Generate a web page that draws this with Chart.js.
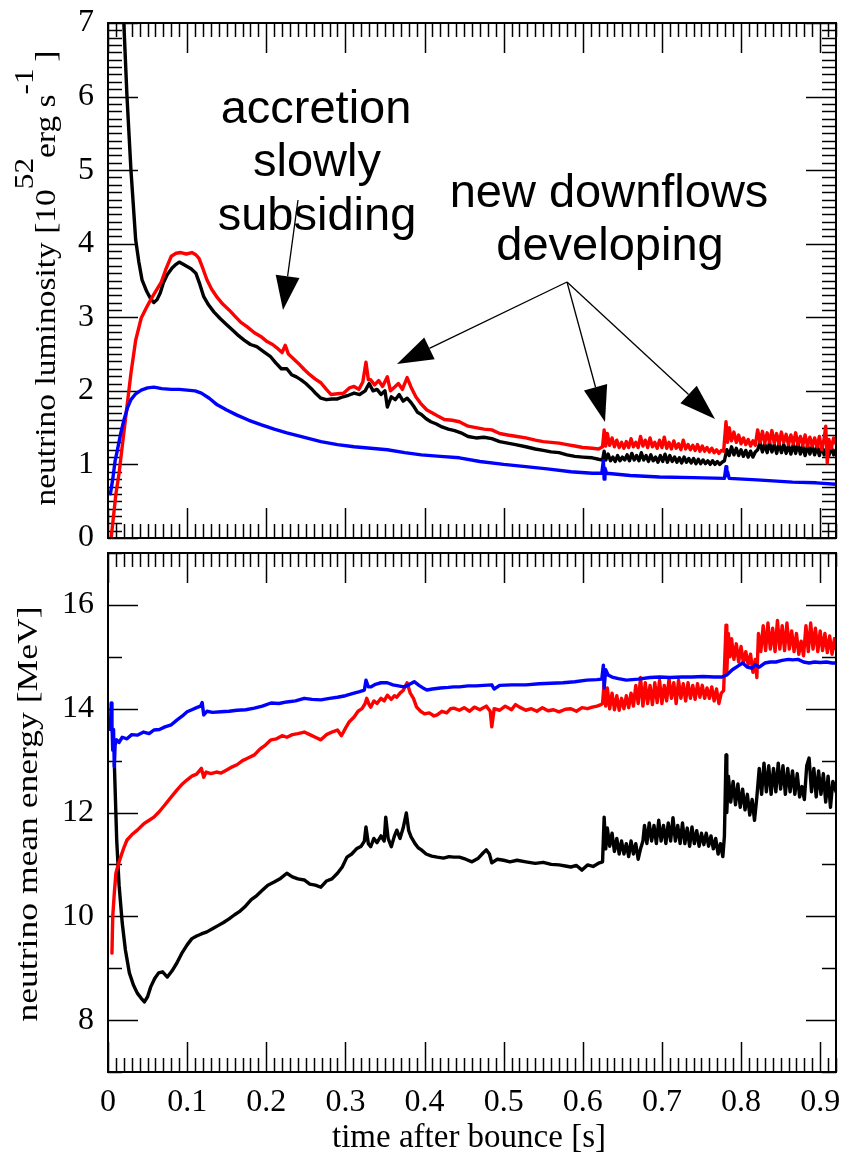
<!DOCTYPE html>
<html><head><meta charset="utf-8">
<script src="https://cdn.jsdelivr.net/npm/chart.js@4.4.1/dist/chart.umd.min.js"></script>
<style>
html,body{margin:0;padding:0;background:#fff;}
#wrap{position:relative;width:846px;height:1157px;overflow:hidden;background:#fff;}
canvas{position:absolute;left:0;}
</style></head><body>
<div id="wrap">
<canvas id="lum" width="846" height="546" style="top:0;width:846px;height:546px"></canvas>
<canvas id="ene" width="846" height="611" style="top:546px;width:846px;height:611px"></canvas>
</div>
<script>
// ---------- axes ----------
const xRange = [0, 0.92];
const xTickValues = [0, 0.1, 0.2, 0.3, 0.4, 0.5, 0.6, 0.7, 0.8, 0.9];
const xTickLabels = ['0','0.1','0.2','0.3','0.4','0.5','0.6','0.7','0.8','0.9'];
const lumRange = [0, 7];
const lumTickValues = [0, 1, 2, 3, 4, 5, 6, 7];
const energyRange = [7, 17];
const energyTickValues = [8, 10, 12, 14, 16];

// ---------- luminosity [1e52 erg/s] vs time [s] ----------
const lumNuE = [[0.012,9.5],[0.016,8.0],[0.02,7.0],[0.024,6.0],[0.029,5.0],[0.035,4.05],[0.039,3.75],[0.043,3.51],[0.049,3.35],[0.054,3.25],[0.058,3.2],[0.062,3.24],[0.066,3.33],[0.07,3.47],[0.075,3.58],[0.081,3.67],[0.086,3.72],[0.09,3.75],[0.095,3.72],[0.1,3.69],[0.105,3.66],[0.111,3.6],[0.116,3.45],[0.121,3.28],[0.127,3.17],[0.134,3.07],[0.142,2.98],[0.15,2.9],[0.158,2.82],[0.165,2.75],[0.172,2.69],[0.18,2.63],[0.188,2.6],[0.197,2.53],[0.205,2.47],[0.212,2.38],[0.219,2.3],[0.226,2.3],[0.232,2.22],[0.238,2.19],[0.244,2.15],[0.25,2.1],[0.257,2.03],[0.263,1.96],[0.269,1.9],[0.276,1.88],[0.283,1.89],[0.29,1.89],[0.297,1.92],[0.304,1.94],[0.311,1.97],[0.318,1.95],[0.325,2.0],[0.33,2.1],[0.335,2.0],[0.34,2.02],[0.345,1.95],[0.35,2.0],[0.353,1.78],[0.358,1.92],[0.363,1.88],[0.368,1.95],[0.373,1.86],[0.378,1.9],[0.383,1.84],[0.387,1.78],[0.391,1.71],[0.396,1.68],[0.402,1.62],[0.408,1.58],[0.415,1.55],[0.422,1.51],[0.43,1.48],[0.438,1.46],[0.446,1.43],[0.455,1.38],[0.465,1.36],[0.475,1.37],[0.485,1.35],[0.495,1.31],[0.505,1.29],[0.515,1.27],[0.528,1.24],[0.54,1.21],[0.55,1.19],[0.56,1.17],[0.57,1.16],[0.58,1.13],[0.59,1.11],[0.6,1.1],[0.612,1.09],[0.62,1.07],
[0.625,1.06],[0.627,1.18],[0.629,1.06],[0.632,1.14],[0.635,1.05],[0.638,1.1],[0.641,1.04],[0.644,1.12],[0.647,1.05],[0.65,1.1],[0.653,1.06],[0.656,1.13],[0.659,1.05],[0.662,1.15],[0.665,1.06],[0.668,1.12],[0.671,1.05],[0.674,1.16],[0.677,1.06],[0.68,1.12],[0.683,1.04],[0.686,1.13],[0.689,1.05],[0.692,1.1],[0.695,1.03],[0.698,1.12],[0.701,1.04],[0.704,1.14],[0.707,1.03],[0.71,1.12],[0.713,1.04],[0.716,1.1],[0.719,1.03],[0.722,1.09],[0.725,1.02],[0.728,1.1],[0.731,1.03],[0.734,1.08],[0.737,1.02],[0.74,1.08],[0.743,1.01],[0.746,1.07],[0.749,1.01],[0.752,1.06],[0.755,1.01],[0.758,1.05],[0.761,1.0],[0.764,1.05],[0.767,1.0],[0.77,1.04],[0.773,1.0],[0.776,1.03],[0.779,1.05],[0.782,1.2],[0.785,1.12],[0.788,1.24],[0.791,1.13],[0.794,1.22],[0.797,1.12],[0.8,1.2],[0.803,1.11],[0.806,1.19],[0.809,1.1],[0.812,1.18],[0.815,1.1],[0.818,1.17],[0.821,1.2],[0.824,1.3],[0.827,1.17],[0.83,1.28],[0.833,1.16],[0.836,1.3],[0.839,1.17],[0.842,1.27],[0.845,1.15],[0.848,1.28],[0.851,1.16],[0.854,1.27],[0.857,1.15],[0.86,1.26],[0.863,1.14],[0.866,1.27],[0.869,1.15],[0.872,1.29],[0.875,1.14],[0.878,1.25],[0.881,1.12],[0.884,1.26],[0.887,1.14],[0.89,1.25],[0.893,1.13],[0.896,1.24],[0.899,1.12],[0.902,1.26],[0.905,1.13],[0.908,1.22],[0.911,1.12],[0.914,1.24],[0.917,1.13],[0.92,1.2]];

const lumAntiNuE = [[0.004,0.0],[0.007,0.3],[0.01,0.6],[0.014,0.88],[0.018,1.25],[0.023,1.7],[0.029,2.24],[0.035,2.69],[0.042,2.99],[0.048,3.12],[0.054,3.24],[0.06,3.35],[0.067,3.47],[0.073,3.65],[0.08,3.83],[0.086,3.87],[0.092,3.88],[0.099,3.86],[0.106,3.88],[0.111,3.85],[0.115,3.8],[0.12,3.66],[0.125,3.51],[0.131,3.38],[0.138,3.27],[0.145,3.18],[0.153,3.1],[0.16,3.02],[0.168,2.93],[0.176,2.87],[0.185,2.79],[0.193,2.74],[0.201,2.67],[0.208,2.63],[0.215,2.57],[0.22,2.52],[0.224,2.62],[0.228,2.5],[0.233,2.45],[0.24,2.38],[0.248,2.29],[0.255,2.22],[0.262,2.16],[0.269,2.11],[0.276,2.02],[0.282,1.95],[0.29,1.96],[0.298,1.97],[0.305,2.04],[0.311,2.06],[0.317,2.02],[0.322,2.12],[0.326,2.39],[0.329,2.15],[0.332,2.15],[0.337,2.08],[0.342,2.14],[0.347,2.06],[0.353,2.19],[0.357,2.0],[0.362,2.05],[0.367,2.1],[0.372,2.02],[0.378,2.18],[0.383,2.05],[0.389,1.92],[0.395,1.83],[0.403,1.74],[0.41,1.7],[0.418,1.65],[0.425,1.61],[0.435,1.6],[0.444,1.58],[0.455,1.52],[0.465,1.5],[0.475,1.48],[0.485,1.47],[0.495,1.42],[0.505,1.4],[0.517,1.38],[0.528,1.36],[0.54,1.33],[0.55,1.31],[0.56,1.3],[0.57,1.29],[0.58,1.27],[0.59,1.25],[0.6,1.23],[0.612,1.22],[0.62,1.21],
[0.625,1.24],[0.627,1.47],[0.629,1.25],[0.631,1.42],[0.634,1.26],[0.637,1.36],[0.64,1.24],[0.643,1.33],[0.646,1.23],[0.649,1.3],[0.652,1.22],[0.655,1.31],[0.658,1.23],[0.661,1.35],[0.664,1.24],[0.667,1.3],[0.67,1.23],[0.673,1.38],[0.676,1.25],[0.679,1.33],[0.682,1.23],[0.685,1.36],[0.688,1.24],[0.691,1.3],[0.694,1.22],[0.697,1.33],[0.7,1.23],[0.703,1.37],[0.706,1.22],[0.709,1.3],[0.712,1.21],[0.715,1.32],[0.718,1.22],[0.721,1.28],[0.724,1.2],[0.727,1.33],[0.73,1.21],[0.733,1.27],[0.736,1.2],[0.739,1.26],[0.742,1.19],[0.745,1.27],[0.748,1.18],[0.751,1.25],[0.754,1.18],[0.757,1.23],[0.76,1.17],[0.763,1.22],[0.766,1.16],[0.769,1.2],[0.772,1.15],[0.775,1.19],[0.778,1.18],[0.781,1.58],[0.783,1.3],[0.785,1.5],[0.788,1.32],[0.791,1.44],[0.794,1.3],[0.797,1.4],[0.8,1.28],[0.803,1.36],[0.806,1.27],[0.809,1.34],[0.812,1.25],[0.815,1.32],[0.818,1.26],[0.821,1.47],[0.824,1.3],[0.827,1.45],[0.83,1.29],[0.833,1.43],[0.836,1.3],[0.839,1.46],[0.842,1.29],[0.845,1.42],[0.848,1.28],[0.851,1.44],[0.854,1.3],[0.857,1.41],[0.86,1.27],[0.863,1.4],[0.866,1.28],[0.869,1.43],[0.872,1.27],[0.875,1.38],[0.878,1.26],[0.881,1.4],[0.884,1.25],[0.887,1.37],[0.89,1.25],[0.893,1.36],[0.896,1.24],[0.899,1.38],[0.902,1.2],[0.905,1.35],[0.907,1.52],[0.909,1.02],[0.911,1.34],[0.914,1.22],[0.917,1.36],[0.92,1.28]];

const lumNuX = [[0.003,0.6],[0.006,0.8],[0.009,1.05],[0.012,1.2],[0.016,1.42],[0.02,1.6],[0.025,1.78],[0.029,1.88],[0.035,1.96],[0.042,2.01],[0.05,2.04],[0.058,2.05],[0.068,2.03],[0.08,2.02],[0.09,2.02],[0.1,2.01],[0.11,2.0],[0.118,1.97],[0.128,1.9],[0.138,1.81],[0.15,1.74],[0.163,1.67],[0.178,1.6],[0.193,1.54],[0.21,1.48],[0.226,1.43],[0.247,1.37],[0.269,1.31],[0.29,1.27],[0.311,1.24],[0.332,1.22],[0.353,1.2],[0.375,1.16],[0.396,1.13],[0.42,1.11],[0.444,1.09],[0.47,1.04],[0.5,1.0],[0.528,0.97],[0.555,0.94],[0.585,0.9],[0.612,0.88],[0.624,0.88],[0.626,1.05],[0.627,0.8],[0.628,0.95],[0.63,0.88],[0.66,0.85],[0.697,0.83],[0.74,0.82],[0.779,0.81],[0.781,0.97],[0.782,0.85],[0.783,0.9],[0.785,0.81],[0.82,0.79],[0.865,0.76],[0.895,0.75],[0.92,0.73]];

// ---------- mean energy [MeV] vs time [s] ----------
const eNuE = [[0.008,12.95],[0.011,11.47],[0.014,10.6],[0.018,9.87],[0.022,9.35],[0.027,8.91],[0.032,8.68],[0.037,8.52],[0.042,8.42],[0.046,8.35],[0.05,8.45],[0.054,8.64],[0.059,8.8],[0.064,8.91],[0.069,8.93],[0.075,8.83],[0.081,8.95],[0.087,9.1],[0.093,9.28],[0.1,9.45],[0.106,9.57],[0.112,9.62],[0.118,9.66],[0.125,9.7],[0.132,9.76],[0.139,9.82],[0.146,9.88],[0.153,9.95],[0.16,10.03],[0.167,10.1],[0.174,10.2],[0.181,10.32],[0.188,10.4],[0.195,10.5],[0.202,10.6],[0.21,10.66],[0.218,10.73],[0.226,10.83],[0.233,10.76],[0.24,10.72],[0.248,10.7],[0.255,10.62],[0.262,10.6],[0.269,10.56],[0.276,10.68],[0.283,10.72],[0.29,10.83],[0.296,10.95],[0.302,11.14],[0.308,11.2],[0.314,11.3],[0.32,11.35],[0.324,11.45],[0.326,11.72],[0.329,11.4],[0.332,11.34],[0.336,11.5],[0.34,11.42],[0.345,11.55],[0.349,11.45],[0.351,11.91],[0.354,11.5],[0.358,11.34],[0.362,11.55],[0.365,11.66],[0.369,11.5],[0.373,11.7],[0.377,11.99],[0.38,11.65],[0.383,11.53],[0.388,11.4],[0.392,11.32],[0.396,11.28],[0.402,11.2],[0.409,11.16],[0.416,11.14],[0.424,11.12],[0.431,11.15],[0.437,11.14],[0.444,11.14],[0.452,11.1],[0.46,11.05],[0.468,11.12],[0.474,11.22],[0.478,11.28],[0.482,11.2],[0.485,11.03],[0.492,11.1],[0.5,11.08],[0.508,11.05],[0.517,11.08],[0.528,11.05],[0.54,11.02],[0.55,11.04],[0.56,11.0],[0.57,10.99],[0.578,10.97],[0.585,10.95],[0.592,10.98],[0.599,10.89],[0.606,10.99],[0.613,10.96],[0.621,11.03],
[0.625,11.05],[0.627,11.91],[0.629,11.3],[0.631,11.7],[0.634,11.35],[0.637,11.6],[0.64,11.25],[0.643,11.5],[0.646,11.2],[0.649,11.45],[0.652,11.2],[0.655,11.4],[0.658,11.15],[0.661,11.45],[0.664,11.2],[0.667,11.4],[0.67,11.1],[0.673,11.3],[0.676,11.45],[0.678,11.75],[0.681,11.4],[0.684,11.8],[0.687,11.45],[0.69,11.75],[0.693,11.4],[0.696,11.85],[0.699,11.45],[0.702,11.75],[0.705,11.4],[0.708,11.8],[0.711,11.45],[0.714,11.9],[0.717,11.45],[0.72,11.75],[0.723,11.4],[0.726,11.8],[0.729,11.4],[0.732,11.7],[0.735,11.35],[0.738,11.72],[0.741,11.4],[0.744,11.65],[0.747,11.35],[0.75,11.6],[0.753,11.38],[0.756,11.6],[0.759,11.35],[0.762,11.55],[0.765,11.3],[0.768,11.5],[0.771,11.2],[0.774,11.4],[0.777,11.15],[0.779,11.55],[0.781,13.11],[0.782,12.0],[0.784,12.7],[0.787,12.2],[0.79,12.6],[0.793,12.15],[0.796,12.55],[0.799,12.1],[0.802,12.45],[0.805,12.05],[0.808,12.35],[0.811,11.95],[0.814,12.25],[0.817,11.85],[0.82,12.3],[0.823,12.85],[0.826,12.35],[0.829,12.95],[0.832,12.4],[0.835,12.9],[0.838,12.35],[0.841,12.85],[0.844,12.4],[0.847,12.95],[0.85,12.45],[0.853,12.9],[0.856,12.35],[0.859,12.85],[0.862,12.4],[0.865,12.8],[0.868,12.35],[0.871,12.75],[0.874,12.3],[0.877,12.5],[0.88,12.25],[0.883,12.9],[0.886,13.05],[0.889,12.4],[0.892,12.85],[0.895,12.3],[0.898,12.8],[0.901,12.35],[0.904,12.75],[0.907,12.2],[0.91,12.7],[0.913,12.1],[0.916,12.6],[0.92,12.4]];

const eAntiNuE = [[0.005,9.29],[0.006,10.0],[0.008,10.45],[0.01,10.83],[0.013,11.0],[0.016,11.14],[0.02,11.32],[0.024,11.47],[0.03,11.57],[0.037,11.66],[0.045,11.78],[0.052,11.85],[0.058,11.91],[0.065,12.02],[0.072,12.15],[0.08,12.3],[0.087,12.43],[0.094,12.55],[0.1,12.63],[0.106,12.7],[0.112,12.74],[0.118,12.85],[0.121,12.68],[0.124,12.78],[0.13,12.75],[0.137,12.78],[0.143,12.76],[0.15,12.82],[0.157,12.88],[0.163,12.92],[0.17,13.0],[0.177,13.05],[0.185,13.11],[0.192,13.22],[0.199,13.3],[0.206,13.4],[0.213,13.42],[0.22,13.48],[0.226,13.45],[0.233,13.5],[0.24,13.52],[0.248,13.55],[0.255,13.5],[0.262,13.45],[0.269,13.4],[0.276,13.5],[0.283,13.55],[0.29,13.59],[0.295,13.48],[0.3,13.62],[0.305,13.75],[0.311,13.84],[0.316,13.95],[0.321,14.0],[0.325,14.1],[0.327,14.2],[0.33,14.08],[0.332,14.03],[0.336,14.15],[0.34,14.1],[0.345,14.2],[0.349,14.15],[0.353,14.26],[0.358,14.18],[0.362,14.25],[0.365,14.22],[0.369,14.3],[0.373,14.35],[0.378,14.5],[0.382,14.3],[0.386,14.2],[0.39,14.03],[0.395,13.95],[0.4,13.9],[0.406,13.92],[0.412,13.86],[0.416,13.88],[0.422,13.95],[0.428,13.92],[0.433,14.0],[0.437,14.01],[0.444,13.97],[0.45,14.02],[0.457,13.95],[0.463,14.03],[0.47,13.98],[0.478,14.05],[0.483,13.95],[0.485,13.65],[0.488,14.0],[0.495,13.97],[0.502,14.05],[0.51,13.98],[0.515,14.08],[0.52,14.03],[0.528,13.97],[0.535,14.0],[0.542,13.95],[0.549,14.02],[0.556,13.96],[0.563,13.98],[0.57,13.94],[0.578,13.99],[0.585,14.0],[0.592,13.95],[0.599,14.02],[0.606,14.0],[0.612,14.03],[0.618,14.05],[0.623,14.08],
[0.625,14.1],[0.627,14.5],[0.629,14.05],[0.631,14.4],[0.634,14.0],[0.637,14.3],[0.64,13.98],[0.643,14.25],[0.646,13.97],[0.649,14.2],[0.652,14.0],[0.655,14.25],[0.658,14.02],[0.661,14.3],[0.664,14.05],[0.667,14.45],[0.67,14.1],[0.673,14.6],[0.676,14.05],[0.679,14.5],[0.682,14.1],[0.685,14.45],[0.688,14.08],[0.691,14.5],[0.694,14.12],[0.697,14.55],[0.7,14.1],[0.703,14.45],[0.706,14.15],[0.709,14.58],[0.712,14.2],[0.715,14.5],[0.718,14.1],[0.721,14.55],[0.724,14.2],[0.727,14.48],[0.73,14.15],[0.733,14.5],[0.736,14.2],[0.739,14.45],[0.742,14.18],[0.745,14.48],[0.748,14.22],[0.751,14.45],[0.754,14.2],[0.757,14.4],[0.76,14.2],[0.763,14.42],[0.766,14.15],[0.769,14.38],[0.772,14.1],[0.775,14.3],[0.778,14.35],[0.781,15.61],[0.782,14.7],[0.784,15.45],[0.786,15.0],[0.788,15.35],[0.791,14.95],[0.794,15.25],[0.797,14.9],[0.8,15.2],[0.803,14.88],[0.806,15.1],[0.809,14.85],[0.812,15.05],[0.815,14.7],[0.818,14.95],[0.82,14.6],[0.822,15.45],[0.825,15.1],[0.828,15.6],[0.831,15.12],[0.834,15.65],[0.837,15.15],[0.84,15.55],[0.843,15.1],[0.846,15.7],[0.849,15.15],[0.852,15.6],[0.855,15.12],[0.858,15.65],[0.861,15.15],[0.864,15.5],[0.867,15.1],[0.87,15.45],[0.873,15.05],[0.876,15.3],[0.879,15.02],[0.882,15.6],[0.885,15.1],[0.888,15.65],[0.891,15.15],[0.894,15.55],[0.897,15.1],[0.9,15.5],[0.903,15.12],[0.906,15.45],[0.909,15.08],[0.912,15.4],[0.915,15.05],[0.918,15.35],[0.92,15.15]];

const eNuX = [[0.003,13.6],[0.004,14.11],[0.005,13.7],[0.006,13.2],[0.007,13.6],[0.008,12.88],[0.009,13.3],[0.011,13.4],[0.014,13.35],[0.018,13.45],[0.024,13.42],[0.03,13.5],[0.037,13.49],[0.045,13.55],[0.052,13.52],[0.058,13.59],[0.065,13.6],[0.072,13.65],[0.08,13.69],[0.087,13.78],[0.094,13.86],[0.1,13.94],[0.106,13.98],[0.112,14.02],[0.117,14.05],[0.119,14.12],[0.121,13.88],[0.125,13.95],[0.132,13.93],[0.143,13.94],[0.153,13.95],[0.163,13.97],[0.174,13.98],[0.185,14.01],[0.195,14.05],[0.206,14.11],[0.216,14.1],[0.226,14.13],[0.237,14.15],[0.248,14.2],[0.258,14.18],[0.269,14.17],[0.28,14.2],[0.29,14.22],[0.3,14.25],[0.311,14.3],[0.318,14.33],[0.324,14.36],[0.326,14.55],[0.329,14.42],[0.332,14.42],[0.338,14.47],[0.345,14.5],[0.353,14.5],[0.36,14.46],[0.367,14.44],[0.374,14.42],[0.38,14.46],[0.387,14.52],[0.393,14.45],[0.398,14.4],[0.403,14.36],[0.41,14.38],[0.42,14.4],[0.43,14.41],[0.437,14.42],[0.444,14.42],[0.455,14.44],[0.465,14.44],[0.475,14.45],[0.485,14.46],[0.488,14.38],[0.495,14.45],[0.51,14.46],[0.528,14.46],[0.545,14.48],[0.56,14.49],[0.575,14.5],[0.59,14.52],[0.605,14.55],[0.618,14.56],[0.624,14.57],[0.626,14.84],[0.627,14.4],[0.629,14.75],[0.632,14.65],[0.637,14.61],[0.645,14.58],[0.655,14.55],[0.67,14.57],[0.685,14.6],[0.697,14.61],[0.71,14.6],[0.725,14.61],[0.738,14.61],[0.752,14.62],[0.766,14.61],[0.776,14.61],[0.782,14.65],[0.789,14.75],[0.796,14.82],[0.802,14.88],[0.808,14.8],[0.814,14.78],[0.818,14.85],[0.823,14.8],[0.83,14.88],[0.837,14.9],[0.844,14.9],[0.852,14.93],[0.86,14.95],[0.865,14.94],[0.872,14.95],[0.879,14.9],[0.886,14.88],[0.893,14.9],[0.9,14.89],[0.908,14.9],[0.915,14.88],[0.92,14.88]];

const seriesColors = { nuE: '#000000', antiNuE: '#ff0000', nuX: '#0000ff' };

// ---------- drawing helpers ----------
const SERIF = "'Liberation Serif','Times New Roman',Times,serif";
const SANS = "'Liberation Sans',Arial,Helvetica,sans-serif";
const toXY = arr => arr.map(p => ({ x: p[0], y: p[1] }));

function seg(ctx, x1, y1, x2, y2) { ctx.beginPath(); ctx.moveTo(x1, y1); ctx.lineTo(x2, y2); ctx.stroke(); }
function isMultiple(v, step) { const r = v / step; return Math.abs(r - Math.round(r)) < 1e-6; }

const frameTicks = {
  id: 'frameTicks',
  beforeDatasetsDraw(chart, args, o) {
    const { ctx, chartArea: a } = chart;
    const xs = chart.scales.x, ys = chart.scales.y;
    ctx.save();
    ctx.strokeStyle = '#000';
    ctx.lineWidth = 1.5;
    const nx = Math.round((xRange[1] - xRange[0]) / o.xMinor);
    for (let i = 0; i <= nx; i++) {
      const v = xRange[0] + i * o.xMinor;
      const len = isMultiple(v, o.xMajor) ? o.majorLen : o.minorLen;
      const px = Math.round(xs.getPixelForValue(v)) + 0.5;
      seg(ctx, px, a.bottom, px, a.bottom - len);
      seg(ctx, px, a.top, px, a.top + len);
    }
    const ny = Math.round((o.yTo - o.yFrom) / o.yMinor);
    for (let i = 0; i <= ny; i++) {
      const v = o.yFrom + i * o.yMinor;
      const len = isMultiple(v, o.yMajor) ? o.majorLen : o.minorLen;
      const py = Math.round(ys.getPixelForValue(v)) + 0.5;
      seg(ctx, a.left, py, a.left + len, py);
      seg(ctx, a.right, py, a.right - len, py);
    }
    ctx.restore();
  },
  afterDatasetsDraw(chart) {
    const { ctx, chartArea: a } = chart;
    ctx.save();
    ctx.strokeStyle = '#000';
    ctx.lineWidth = 2;
    ctx.strokeRect(a.left, a.top, a.right - a.left, a.bottom - a.top);
    ctx.restore();
  }
};

function drawVerticalTitle(ctx, t) {
  ctx.save();
  let total = 0;
  const ws = t.parts.map(p => {
    ctx.font = (p.sup ? Math.round(t.size * 0.92) : t.size) + 'px ' + SERIF;
    const w = ctx.measureText(p.text).width;
    total += w;
    return w;
  });
  const stretch = t.length / total;
  ctx.translate(t.baseX, t.centerY);
  ctx.rotate(-Math.PI / 2);
  ctx.scale(stretch, 1);
  ctx.fillStyle = '#000';
  ctx.textBaseline = 'alphabetic';
  ctx.textAlign = 'left';
  let pos = -total / 2;
  t.parts.forEach((p, i) => {
    ctx.font = (p.sup ? Math.round(t.size * 0.92) : t.size) + 'px ' + SERIF;
    ctx.fillText(p.text, pos, p.sup ? -t.size * 0.74 : 0);
    pos += ws[i];
  });
  ctx.restore();
}

function drawArrow(ctx, ar) {
  const dx = ar.x2 - ar.x1, dy = ar.y2 - ar.y1;
  const L = Math.hypot(dx, dy), ux = dx / L, uy = dy / L;
  const bx = ar.x2 - ux * ar.head, by = ar.y2 - uy * ar.head;
  ctx.lineWidth = 1.3;
  seg(ctx, ar.x1, ar.y1, bx, by);
  ctx.beginPath();
  ctx.moveTo(ar.x2, ar.y2);
  ctx.lineTo(bx - uy * ar.half, by + ux * ar.half);
  ctx.lineTo(bx + uy * ar.half, by - ux * ar.half);
  ctx.closePath();
  ctx.fill();
}

const annotations = {
  id: 'annotations',
  afterDraw(chart, args, o) {
    const ctx = chart.ctx;
    ctx.save();
    ctx.fillStyle = '#000';
    ctx.strokeStyle = '#000';
    (o.texts || []).forEach(t => {
      ctx.font = t.size + 'px ' + t.family;
      ctx.textAlign = 'center';
      ctx.textBaseline = 'alphabetic';
      ctx.fillText(t.text, t.x, t.y);
    });
    (o.arrows || []).forEach(ar => drawArrow(ctx, ar));
    (o.vtitles || []).forEach(t => drawVerticalTitle(ctx, t));
    ctx.restore();
  }
};

function dataset(label, arr, color, order) {
  return { label, data: toXY(arr), borderColor: color, backgroundColor: color,
           borderWidth: 3.4, pointRadius: 0, tension: 0, fill: false, order,
           borderJoinStyle: 'round', borderCapStyle: 'round' };
}

function yScale(range, tickVals) {
  return {
    type: 'linear', min: range[0], max: range[1], position: 'left',
    grid: { display: false, drawTicks: false }, border: { display: false },
    ticks: { color: '#000', font: { family: SERIF, size: 32 }, padding: 14 },
    afterBuildTicks: s => { s.ticks = tickVals.map(v => ({ value: v })); },
    afterFit: s => { s.width = 108; s.paddingTop = 0; s.paddingBottom = 0; }
  };
}

// ---------- top panel: luminosity ----------
new Chart(document.getElementById('lum'), {
  type: 'line',
  data: { datasets: [
    dataset('nu_x', lumNuX, seriesColors.nuX, 1),
    dataset('anti nu_e', lumAntiNuE, seriesColors.antiNuE, 2),
    dataset('nu_e', lumNuE, seriesColors.nuE, 3)
  ]},
  options: {
    responsive: false, animation: false, devicePixelRatio: 1,
    layout: { padding: { left: 0, right: 10, top: 23, bottom: 8 } },
    plugins: {
      legend: { display: false }, tooltip: { enabled: false },
      frameTicks: { xMinor: 0.01, xMajor: 0.1, yFrom: 0, yTo: 7, yMinor: 0.1, yMajor: 1, majorLen: 30, minorLen: 14 },
      annotations: {
        texts: [
          { text: 'accretion', x: 316, y: 123, size: 47, family: SANS },
          { text: 'slowly', x: 317, y: 176, size: 47, family: SANS },
          { text: 'subsiding', x: 317, y: 230, size: 47, family: SANS },
          { text: 'new downflows', x: 609, y: 207, size: 47, family: SANS },
          { text: 'developing', x: 610, y: 260, size: 47, family: SANS }
        ],
        arrows: [
          { x1: 298, y1: 200, x2: 283, y2: 310, head: 34, half: 12 },
          { x1: 567, y1: 282, x2: 397, y2: 364, head: 36, half: 12 },
          { x1: 567, y1: 282, x2: 605, y2: 422, head: 36, half: 12 },
          { x1: 567, y1: 282, x2: 715, y2: 419, head: 36, half: 12 }
        ],
        vtitles: [
          { baseX: 55, centerY: 278, size: 30, length: 455,
            parts: [ { text: 'neutrino luminosity [10' }, { text: '52', sup: true }, { text: 'erg s' }, { text: '-1', sup: true }, { text: '\u2009]' } ] }
        ]
      }
    },
    scales: {
      x: { type: 'linear', min: xRange[0], max: xRange[1], display: false },
      y: yScale(lumRange, lumTickValues)
    }
  },
  plugins: [frameTicks, annotations]
});

// ---------- bottom panel: mean energy ----------
new Chart(document.getElementById('ene'), {
  type: 'line',
  data: { datasets: [
    dataset('nu_x', eNuX, seriesColors.nuX, 1),
    dataset('anti nu_e', eAntiNuE, seriesColors.antiNuE, 2),
    dataset('nu_e', eNuE, seriesColors.nuE, 3)
  ]},
  options: {
    responsive: false, animation: false, devicePixelRatio: 1,
    layout: { padding: { left: 0, right: 10, top: 7, bottom: 0 } },
    plugins: {
      legend: { display: false }, tooltip: { enabled: false },
      frameTicks: { xMinor: 0.01, xMajor: 0.1, yFrom: 7, yTo: 17, yMinor: 1, yMajor: 2, majorLen: 30, minorLen: 14 },
      annotations: {
        texts: [ { text: 'time after bounce [s]', x: 469, y: 601, size: 33, family: SERIF } ],
        vtitles: [
          { baseX: 37, centerY: 268, size: 30, length: 415,
            parts: [ { text: 'neutrino mean energy [MeV]' } ] }
        ]
      }
    },
    scales: {
      x: {
        type: 'linear', min: xRange[0], max: xRange[1], position: 'bottom',
        grid: { display: false, drawTicks: false }, border: { display: false },
        ticks: { color: '#000', font: { family: SERIF, size: 32 }, padding: 11, autoSkip: false, maxRotation: 0,
                 callback: (v, i) => xTickLabels[i] },
        afterBuildTicks: s => { s.ticks = xTickValues.map(v => ({ value: v })); },
        afterFit: s => { s.height = 85; s.paddingLeft = 0; s.paddingRight = 0; }
      },
      y: yScale(energyRange, energyTickValues)
    }
  },
  plugins: [frameTicks, annotations]
});
</script>
</body></html>
